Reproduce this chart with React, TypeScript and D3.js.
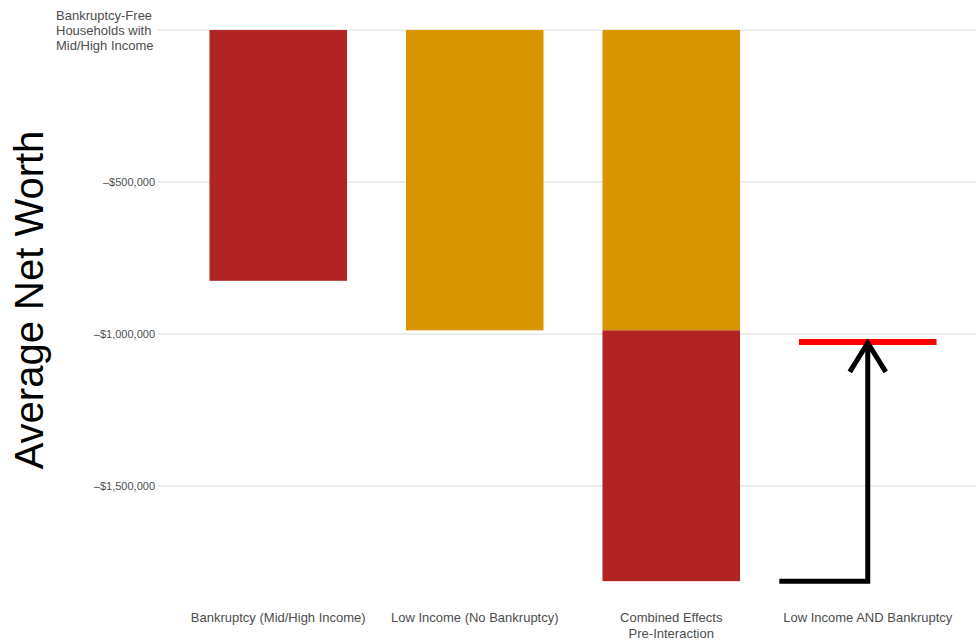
import React from "react";
import * as d3 from "d3";

// Categories along the x axis
const categories = [
  "Bankruptcy (Mid/High Income)",
  "Low Income (No Bankruptcy)",
  "Combined Effects\nPre-Interaction",
  "Low Income AND Bankruptcy",
];

// Net worth gaps relative to bankruptcy-free mid/high income households
const bankruptcyEffect = -825000;
const lowIncomeEffect = -988000;
const combinedTotal = lowIncomeEffect + bankruptcyEffect;
const interactionValue = -1026000;

// Single-effect bars
const singleBars = [
  { category: categories[0], value: bankruptcyEffect, kind: "bankruptcy" },
  { category: categories[1], value: lowIncomeEffect, kind: "income" },
];

// Stacked bar: low-income effect on top, bankruptcy effect below
const stackedSegments = [
  { category: categories[2], from: 0, to: lowIncomeEffect, kind: "income" },
  { category: categories[2], from: lowIncomeEffect, to: combinedTotal, kind: "bankruptcy" },
];

const yTicks = [0, -500000, -1000000, -1500000];
const zeroLabel = ["Bankruptcy-Free", "Households with", "Mid/High Income"];

const colors: Record<string, string> = {
  bankruptcy: "#B22424",
  income: "#D99500",
};

const W = 976;
const H = 641;
const FONT = "'Liberation Sans', Arial, Helvetica, sans-serif";

export default function App() {
  const x = d3
    .scaleBand<string>()
    .domain(categories)
    .range([180, 966])
    .paddingInner(0.3)
    .paddingOuter(0.15);

  const y = d3.scaleLinear().domain([0, -1500000]).range([30, 486]);

  const fmt = (v: number) => "\u2013$" + d3.format(",")(Math.abs(v));

  const bw = x.bandwidth();
  const x4 = x(categories[3])!;
  const arrowX = x4 + bw / 2;
  const arrowLeft = x4 - x.step() * 0.1;
  const yBottom = y(combinedTotal);
  const yTop = y(interactionValue);

  return (
    <svg
      width={W}
      height={H}
      style={{ position: "absolute", left: 0, top: 0, background: "#fff" }}
      fontFamily={FONT}
    >
      {/* grid */}
      {yTicks.map((t) => (
        <line key={t} x1={158} x2={W} y1={y(t)} y2={y(t)} stroke="#dadada" strokeWidth={1} />
      ))}

      {/* y tick labels */}
      {yTicks.map((t) =>
        t === 0 ? (
          <text key={t} x={56} y={y(t)} fontSize={13} fill="#4d4d4d">
            {zeroLabel.map((line, i) => (
              <tspan key={i} x={56} dy={i === 0 ? -15 + 4.5 : 15}>
                {line}
              </tspan>
            ))}
          </text>
        ) : (
          <text key={t} x={155} y={y(t)} dy="0.35em" textAnchor="end" fontSize={11} fill="#4d4d4d">
            {fmt(t)}
          </text>
        )
      )}

      {/* y axis title */}
      <text
        transform={`translate(43,${300}) rotate(-90)`}
        textAnchor="middle"
        fontSize={40}
        fill="#000"
      >
        Average Net Worth
      </text>

      {/* single-effect bars */}
      {singleBars.map((d) => (
        <rect
          key={d.category}
          x={x(d.category)}
          y={y(0)}
          width={bw}
          height={y(d.value) - y(0)}
          fill={colors[d.kind]}
        />
      ))}

      {/* stacked combined bar */}
      {stackedSegments.map((d, i) => (
        <rect
          key={i}
          x={x(d.category)}
          y={y(d.from)}
          width={bw}
          height={y(d.to) - y(d.from)}
          fill={colors[d.kind]}
        />
      ))}

      {/* observed joint effect */}
      <line x1={x4} x2={x4 + bw} y1={yTop} y2={yTop} stroke="#FF0000" strokeWidth={6} />

      {/* arrow from combined total up to the observed value */}
      <path
        d={`M${arrowLeft},${yBottom} H${arrowX} V${yTop + 2}`}
        fill="none"
        stroke="#000"
        strokeWidth={5}
      />
      <path
        d={`M${arrowX - 18},${yTop + 30} L${arrowX},${yTop + 1} L${arrowX + 18},${yTop + 30}`}
        fill="none"
        stroke="#000"
        strokeWidth={5}
      />

      {/* x labels */}
      {categories.map((c) => (
        <text key={c} x={x(c)! + bw / 2} y={622} textAnchor="middle" fontSize={13} fill="#4d4d4d">
          {c.split("\n").map((line, i) => (
            <tspan key={i} x={x(c)! + bw / 2} dy={i === 0 ? 0 : 16}>
              {line}
            </tspan>
          ))}
        </text>
      ))}
    </svg>
  );
}
